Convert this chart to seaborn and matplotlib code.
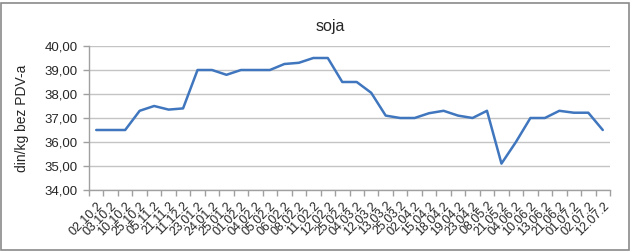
import matplotlib
matplotlib.use("Agg")
import matplotlib.pyplot as plt
from matplotlib.patches import Rectangle
import seaborn as sns
import pandas as pd
from matplotlib.ticker import FuncFormatter, FixedLocator

dates = ["02.10.2", "03.10.2", "10.10.2", "25.10.2", "05.11.2", "21.11.2", "11.12.2",
         "23.01.2", "24.01.2", "25.01.2", "01.02.2", "04.02.2", "05.02.2", "06.02.2",
         "08.02.2", "11.02.2", "12.02.2", "25.02.2", "04.03.2", "12.03.2", "13.03.2",
         "25.03.2", "02.04.2", "15.04.2", "18.04.2", "19.04.2", "23.04.2", "08.05.2",
         "21.05.2", "04.06.2", "10.06.2", "13.06.2", "21.06.2", "01.07.2", "02.07.2",
         "12.07.2"]
prices = [36.5, 36.5, 36.5, 37.3, 37.5, 37.35, 37.4,
          39.0, 39.0, 38.8, 39.0, 39.0, 39.0, 39.25,
          39.3, 39.5, 39.5, 38.5, 38.5, 38.05, 37.1,
          37.0, 37.0, 37.2, 37.3, 37.1, 37.0, 37.3,
          35.1, 36.0, 37.0, 37.0, 37.3, 37.22, 37.22,
          36.5]
title = "soja"
ylabel = "din/kg bez PDV-a"

sns.set_style("white")
plt.rcParams['font.family'] = ['Liberation Sans', 'DejaVu Sans']

df = pd.DataFrame({"idx": range(len(dates)), "price": prices})

fig = plt.figure(figsize=(6.31, 2.52), dpi=100)
ax = fig.add_axes([89/631, 1 - 190/252, (610 - 89)/631, (190 - 46)/252])
sns.lineplot(data=df, x="idx", y="price", ax=ax, color="#3f76be", linewidth=1.8)

ax.set_xlim(-0.5, len(dates) - 0.5)
ax.set_ylim(34, 40)
ax.set_yticks([34, 35, 36, 37, 38, 39, 40])
ax.yaxis.set_major_formatter(FuncFormatter(lambda v, p: f"{v:.2f}".replace(".", ",")))
ax.grid(axis="y", color="#c4c4c4", linewidth=1)
ax.set_axisbelow(True)

ax.set_xticks(range(len(dates)))
ax.set_xticklabels(dates, rotation=45, ha="right", rotation_mode="anchor", fontsize=9)
ax.tick_params(axis="x", which="major", length=0, pad=7)
ax.xaxis.set_minor_locator(FixedLocator([i - 0.5 for i in range(len(dates) + 1)]))
ax.tick_params(axis="x", which="minor", length=4, color="#a0a0a0", width=1, direction="out", bottom=True)
ax.tick_params(axis="y", length=4, color="#a0a0a0", width=1, direction="out", left=True, labelsize=9.5, pad=4)

for s in ["top", "right"]:
    ax.spines[s].set_visible(False)
for s in ["left", "bottom"]:
    ax.spines[s].set_color("#a0a0a0")
    ax.spines[s].set_linewidth(1)

ax.set_xlabel("")
ax.set_ylabel(ylabel, fontsize=10, labelpad=11)
fig.text((89 + 610) / 2 / 631 - 0.03, 1 - 27/252, title, ha="center", va="center", fontsize=11.5)

fig.patches.append(Rectangle((1/631, 2/252), 628/631, 247/252, transform=fig.transFigure,
                             fill=False, edgecolor="#8a8a8a", linewidth=1.2))

fig.savefig("out.png", dpi=100)
